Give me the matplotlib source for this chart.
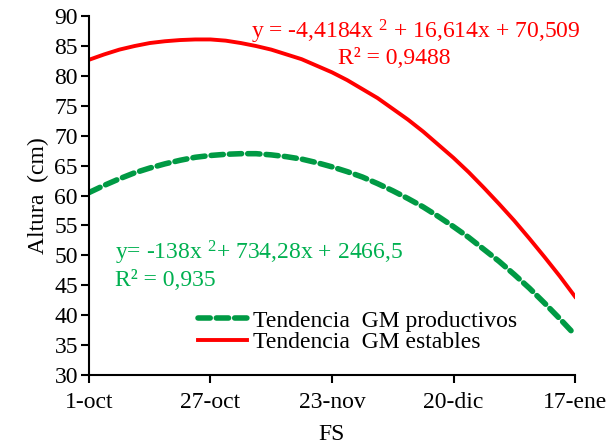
import numpy as np
import matplotlib.pyplot as plt

plt.rcParams['font.family'] = ['Liberation Serif', 'DejaVu Serif']
plt.rcParams['mathtext.fontset'] = 'custom'
plt.rcParams['mathtext.rm'] = 'Liberation Serif'
plt.rcParams['mathtext.it'] = 'Liberation Serif'

# fechas de siembra (categorias del eje x)
fechas = ['1-oct', '27-oct', '23-nov', '20-dic', '17-ene']

pos = [0, 0.125, 0.25, 0.375, 0.5, 0.625, 0.75, 0.875, 1, 1.125, 1.25, 1.375,
       1.5, 1.625, 1.75, 1.875, 2, 2.125, 2.25, 2.375, 2.5, 2.625, 2.75, 2.875,
       3, 3.125, 3.25, 3.375, 3.5, 3.625, 3.75, 3.875, 4]
productivos = [60.5, 61.7, 62.8, 63.8, 64.6, 65.3, 65.9, 66.4, 66.7, 66.9,
               67.0, 67.0, 66.8, 66.5, 66.1, 65.5, 64.8, 64.0, 63.1, 62.0,
               60.8, 59.5, 58.1, 56.5, 54.8, 53.0, 51.0, 49.0, 46.8, 44.5,
               42.0, 39.4, 36.7]
estables = [82.7, 83.6, 84.4, 85.0, 85.5, 85.8, 86.0, 86.1, 86.1, 85.9,
            85.5, 85.0, 84.4, 83.6, 82.8, 81.7, 80.6, 79.3, 77.8, 76.3,
            74.5, 72.7, 70.7, 68.5, 66.3, 63.9, 61.3, 58.6, 55.8, 52.8,
            49.7, 46.5, 43.1]

fig = plt.figure(figsize=(6.15, 4.48), dpi=100)
ax = fig.add_axes([0.1447, 0.163, 0.7903, 0.801])

ax.plot(pos, productivos, color='#009A44', lw=4, ls=(0, (2.2, 1.1)),
        dash_capstyle='round', label='Tendencia  GM productivos')
ax.plot(pos, estables, color='#FF0000', lw=2.8, label='Tendencia  GM estables')

ax.set_xlim(0, 4)
ax.set_ylim(30, 90)
ax.set_yticks(range(30, 91, 5))
ax.set_xticks(range(len(fechas)))
ax.set_xticklabels(fechas)
ax.tick_params(labelsize=17, width=1.5, length=6, direction='out')
ax.tick_params(axis='x', pad=6)
ax.tick_params(axis='y', pad=2)
for s in ['top', 'right']:
    ax.spines[s].set_visible(False)
for s in ['left', 'bottom']:
    ax.spines[s].set_linewidth(1.5)

ax.set_ylabel('Altura  (cm)', fontsize=17, labelpad=4)
ax.set_xlabel('FS', fontsize=17, labelpad=8)

ax.text(0.334, 0.955, r'y = -4,4184x $^{2}$ + 16,614x + 70,509', transform=ax.transAxes,
        color='#FF0000', fontsize=17, ha='left', va='center')
ax.text(0.628, 0.883, 'R² = 0,9488', transform=ax.transAxes,
        color='#FF0000', fontsize=17, ha='center', va='center')
ax.text(0.053, 0.34, r'y= -138x $^{2}$+ 734,28x + 2466,5', transform=ax.transAxes,
        color='#00B050', fontsize=17, ha='left', va='center')
ax.text(0.053, 0.262, 'R² = 0,935', transform=ax.transAxes,
        color='#00B050', fontsize=17, ha='left', va='center')

ax.legend(loc='lower left', bbox_to_anchor=(0.19, 0.015), frameon=False, fontsize=17,
          handlelength=2.1, handletextpad=0.25, labelspacing=0.0, borderpad=0.2)

fig.savefig('out.png', dpi=100)
